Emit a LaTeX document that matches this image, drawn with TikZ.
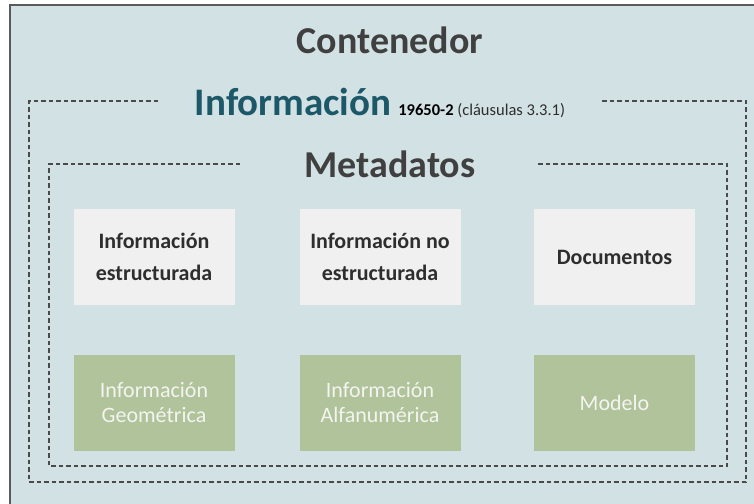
\documentclass[tikz,border=0pt]{standalone}
\usepackage{fontspec}
\setmainfont{Carlito}
\definecolor{bgfill}{HTML}{D2E1E4}
\definecolor{frame}{HTML}{5A5A5A}
\definecolor{dashc}{HTML}{4A4A4A}
\definecolor{titlegray}{HTML}{404040}
\definecolor{teal}{HTML}{1D5868}
\definecolor{lightbox}{HTML}{F0F0F0}
\definecolor{greenbox}{HTML}{B0C39A}
\definecolor{boxtext}{HTML}{2E2E2E}
\definecolor{greentext}{HTML}{F4F4F0}
\begin{document}
\begin{tikzpicture}[x=1pt,y=-1pt,
  dashline/.style={draw=dashc,line width=1.3pt,dash pattern=on 4.5pt off 3pt},
  lightcell/.style={fill=lightbox,draw=none,minimum width=161pt,minimum height=96pt,inner sep=0pt,align=center,text=boxtext,font=\fontsize{22}{32}\selectfont\bfseries},
  greencell/.style={fill=greenbox,draw=none,minimum width=161pt,minimum height=96pt,inner sep=0pt,align=center,text=greentext,font=\fontsize{22}{25}\selectfont}]
\useasboundingbox (0,0) rectangle (754,503);
\fill[white] (0,0) rectangle (754,503);
% outer container
\draw[frame,line width=2.6pt,fill=bgfill] (10,5) rectangle (770,520);
% titles
\node[text=titlegray,font=\fontsize{38}{40}\selectfont\bfseries,anchor=base,inner sep=0pt] (cont) at (390,54) {Contenedor};
\node[anchor=base,inner sep=0pt] (info) at (380,115) {\textcolor{teal}{\fontsize{39}{42}\selectfont\bfseries Información}\hspace{7pt}{\fontsize{16.5}{18}\selectfont\textcolor{black}{\bfseries 19650-2} \textcolor{boxtext}{(cláusulas 3.3.1)}}};
\node[text=titlegray,font=\fontsize{38}{40}\selectfont\bfseries,anchor=base,inner sep=0pt] (meta) at (390,177) {Metadatos};
% dashed frames
\coordinate (ia) at (158,101);
\coordinate (ib) at (29,101);
\coordinate (ic) at (29,482);
\coordinate (id) at (746,482);
\coordinate (ie) at (746,101);
\coordinate (iff) at (602,101);
\draw[dashline] (ia) -- (ib) -- (ic) -- (id) -- (ie) -- (iff);
\coordinate (ma) at (240,164);
\coordinate (mb) at (49,164);
\coordinate (mc) at (49,466);
\coordinate (md) at (727,466);
\coordinate (me) at (727,164);
\coordinate (mf) at (536,164);
\draw[dashline] (ma) -- (mb) -- (mc) -- (md) -- (me) -- (mf);
% cells
\node[lightcell] (e1) at (154,257) {Información\\estructurada};
\node[lightcell] (e2) at (380,257) {Información no\\estructurada};
\node[lightcell] (e3) at (614.5,257) {Documentos};
\node[greencell] (g1) at (154,403) {Información\\Geométrica};
\node[greencell] (g2) at (380,403) {Información\\Alfanumérica};
\node[greencell] (g3) at (614.5,403) {Modelo};
\end{tikzpicture}
\end{document}
